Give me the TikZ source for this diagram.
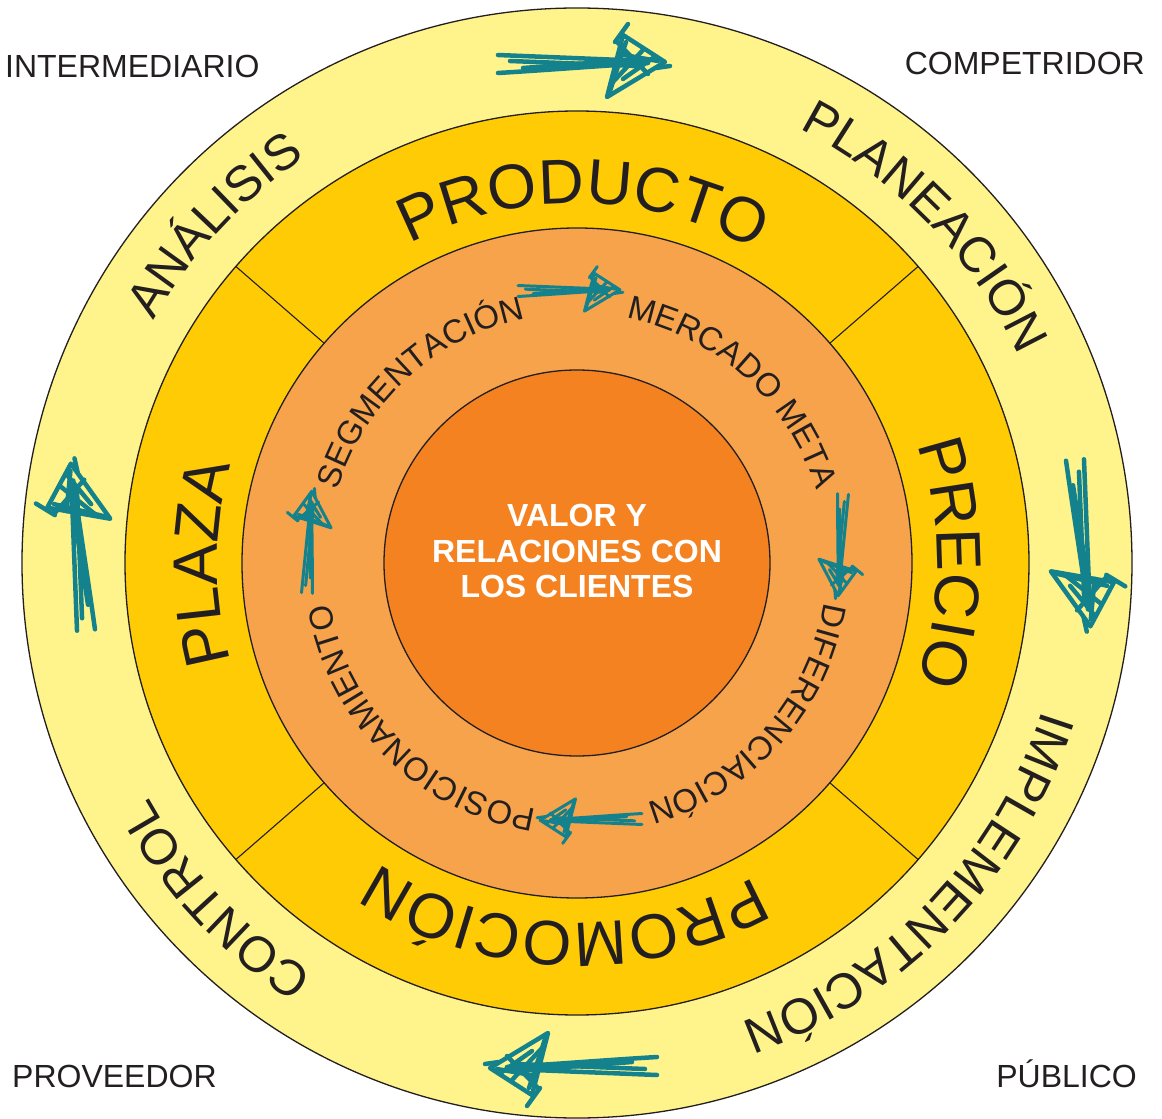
\documentclass[tikz,border=0pt]{standalone}
\usepackage{fontspec}
\setmainfont{Liberation Sans}
\usetikzlibrary{decorations.text}

\definecolor{ringA}{HTML}{FFF48C}
\definecolor{ringB}{HTML}{FFCB05}
\definecolor{ringC}{HTML}{F7A34B}
\definecolor{core}{HTML}{F58220}
\definecolor{ink}{HTML}{231F20}
\definecolor{sketch}{HTML}{14828C}

\newcommand{\outerfont}{\fontsize{50}{50}\selectfont}
\newcommand{\midfont}{\fontsize{63}{63}\selectfont}
\newcommand{\innerfont}{\fontsize{33}{33}\selectfont}
\newcommand{\cornerfont}{\fontsize{32}{32}\selectfont}

% text set clockwise along a circle: radius, centre angle, half span, text
\newcommand{\ringtext}[4]{%
  \path[decorate, decoration={text along path, text={#4}, text align=center}]
    (#2+#3:#1) arc[start angle=#2+#3, end angle=#2-#3, radius=#1];
}

\tikzset{
  ring/.style={draw=ink, line width=1.3pt},
  divider/.style={draw=ink, line width=1.1pt},
  corner/.style={inner sep=0pt, text=ink, font=\cornerfont},
  sketchline/.style={draw=sketch, line cap=round, line join=round},
  pics/scribble arrow/.style={code={
    % shaft
    \draw[sketchline] (0,9) -- (148,3);
    \draw[sketchline] (0,-9) .. controls (50,-6) and (100,-2) .. (150,1);
    \draw[sketchline] (12,3) -- (140,-2);
    \draw[sketchline] (25,-4) -- (145,5);
    % head
    \draw[sketchline] (125,29) -- (167,2) -- (109,-33) -- cycle;
    \draw[sketchline] (117,22) -- (130,40);
    \draw[sketchline] (158,-4) -- (172,-2);
    \draw[sketchline] (119,22) -- (150,-10);
    \draw[sketchline] (113,-20) -- (145,14);
    \draw[sketchline] (120,10) -- (160,3);
    \draw[sketchline] (112,-27) -- (128,22);
    \draw[sketchline] (125,-15) -- (155,6);
  }}
}

\begin{document}
\begin{tikzpicture}[x=1pt, y=1pt]
  \useasboundingbox[fill=white] (-577,-556) rectangle (585,563);

  % rings
  \fill[ringA, ring] (0,0) circle[radius=555];
  \fill[ringB, ring] (0,0) circle[radius=452];
  \foreach \a in {41,139,-41,-139}
    \draw[divider] (\a:335) -- (\a:452);
  \fill[ringC, ring] (0,0) circle[radius=335];
  \fill[core, ring] (0,0) circle[radius=193];

  % centre
  \node[align=center, text=white, font=\fontsize{32}{35.5}\selectfont\bfseries]
    (valor) at (0,12) {VALOR Y\\RELACIONES CON\\LOS CLIENTES};

  % outer ring
  \ringtext{488}{137}{45}{|\color{ink}\outerfont|ANÁLISIS}
  \ringtext{488}{44}{45}{|\color{ink}\outerfont|PLANEACIÓN}
  \ringtext{488}{-44}{45}{|\color{ink}\outerfont|IMPLEMENTACIÓN}
  \ringtext{488}{-137}{45}{|\color{ink}\outerfont|CONTROL}

  % middle ring
  \ringtext{360}{89}{45}{|\color{ink}\midfont|PRODUCTO}
  \ringtext{360}{0}{45}{|\color{ink}\midfont|PRECIO}
  \ringtext{360}{-92}{45}{|\color{ink}\midfont|PROMOCIÓN}
  \ringtext{360}{180}{45}{|\color{ink}\midfont|PLAZA}

  % inner ring
  \ringtext{250}{132.5}{50}{|\color{ink}\innerfont|SEGMENTACIÓN}
  \ringtext{250}{47.8}{50}{|\color{ink}\innerfont|MERCADO META}
  \ringtext{250}{-41.5}{50}{|\color{ink}\innerfont|DIFERENCIACIÓN}
  \ringtext{250}{-135}{50}{|\color{ink}\innerfont|POSICIONAMIENTO}

  % sketched arrows, outer cycle
  \pic[line width=4.5pt] at (-79,499) {scribble arrow};
  \pic[line width=4.5pt, rotate=-85.4] at (498,103) {scribble arrow};
  \pic[line width=4.5pt, rotate=180] at (80,-503) {scribble arrow};
  \pic[line width=4.5pt, rotate=94.5] at (-491,-67) {scribble arrow};

  % sketched arrows, inner cycle
  \pic[line width=3pt, scale=0.61] at (-59,272) {scribble arrow};
  \pic[line width=3pt, scale=0.61, rotate=-93.4] at (266,69) {scribble arrow};
  \pic[line width=3pt, scale=0.61, rotate=180] at (65,-256) {scribble arrow};
  \pic[line width=3pt, scale=0.61, rotate=86.6] at (-270,-30) {scribble arrow};

  % corner labels
  \node[corner, anchor=base west] (intermediario) at (-572,485) {INTERMEDIARIO};
  \node[corner, anchor=base east] (competidor) at (568,488) {COMPETRIDOR};
  \node[corner, anchor=base west] (proveedor) at (-565,-524) {PROVEEDOR};
  \node[corner, anchor=base east] (publico) at (560,-524) {PÚBLICO};
\end{tikzpicture}
\end{document}
